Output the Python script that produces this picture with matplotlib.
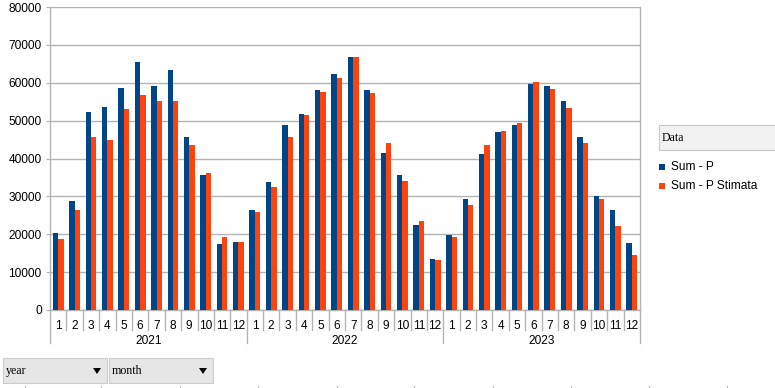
import numpy as np
import matplotlib
matplotlib.use('Agg')
import matplotlib.pyplot as plt
import matplotlib.patches as patches
from matplotlib.lines import Line2D

years = ['2021', '2022', '2023']
months = [str(m) for m in range(1, 13)]

sum_p = [20350, 28700, 52400, 53700, 58600, 65500, 59100, 63300, 45600, 35600, 17500, 18000,
         26300, 33900, 48800, 51800, 58100, 62200, 66900, 58200, 41400, 35600, 22500, 13500,
         19800, 29400, 41300, 47000, 48800, 59800, 59200, 55200, 45700, 30000, 26500, 17800]
sum_p_stimata = [18800, 26500, 45800, 45000, 53100, 56700, 55300, 55200, 43500, 36200, 19200, 18000,
                 25800, 32400, 45800, 51400, 57500, 61300, 66700, 57200, 44000, 34000, 23400, 13100,
                 19200, 27700, 43600, 47200, 49400, 60300, 58300, 53400, 44000, 29200, 22200, 14500]

blue = '#004586'
orange = '#ff420e'
grid_col = '#b3b3b3'

plt.rcParams['font.family'] = ['Liberation Sans', 'DejaVu Sans']
fig = plt.figure(figsize=(7.75, 3.88), dpi=100)
W, H = 775.0, 388.0
ax = fig.add_axes([50 / W, 1 - 310 / H, 590 / W, 303 / H])

x = np.arange(len(sum_p))
w = 0.33
ax.bar(x - w / 2, sum_p, w, color=blue, label='Sum - P', zorder=3)
ax.bar(x + w / 2, sum_p_stimata, w, color=orange, label='Sum - P Stimata', zorder=3)

ax.set_xlim(-0.5, len(sum_p) - 0.5)
ax.set_ylim(0, 80000)
ax.set_yticks(np.arange(0, 80001, 10000))
ax.grid(axis='y', color=grid_col, linewidth=1, zorder=0)
for s in ['top', 'bottom']:
    ax.spines[s].set_visible(False)
for s in ['left', 'right']:
    ax.spines[s].set_color(grid_col)
    ax.spines[s].set_linewidth(1)
ax.tick_params(axis='y', length=3, color=grid_col, labelsize=8.6, pad=3)
ax.set_xticks([])

# category axis: month labels, separators, year labels
trans = ax.get_xaxis_transform()
px = 1.0 / 303
for i in range(len(sum_p)):
    ax.text(i, -16 * px, months[i % 12], transform=trans, ha='center', va='center', fontsize=8.6)
for i in range(len(sum_p) + 1):
    depth = 33 if i % 12 == 0 else 20
    ax.add_line(Line2D([i - 0.5, i - 0.5], [0, -depth * px], transform=trans,
                       color=grid_col, linewidth=1, clip_on=False))
for k, yr in enumerate(years):
    ax.text(k * 12 + 5.5, -31 * px, yr, transform=trans, ha='center', va='center', fontsize=8.6)
ax.add_line(Line2D([-0.5, len(sum_p) - 0.5], [0, 0], transform=trans,
                   color=grid_col, linewidth=1, clip_on=False))

# legend with "Data" field
fig.patches.append(patches.Rectangle((659 / W, 1 - 150 / H), 120 / W, 25 / H, transform=fig.transFigure,
                                     facecolor='#f2f2f2', edgecolor='#c8c8c8', linewidth=0.8))
fig.text(662 / W, 1 - 138 / H, 'Data', fontsize=8.6, family='Liberation Serif', va='center')
for yy, col, lab in [(167, blue, 'Sum - P'), (186, orange, 'Sum - P Stimata')]:
    fig.patches.append(patches.Rectangle((659 / W, 1 - (yy + 3) / H), 6 / W, 6 / H,
                                         transform=fig.transFigure, facecolor=col, edgecolor='none'))
    fig.text(671 / W, 1 - yy / H, lab, fontsize=8.6, va='center')

# field buttons
for x0, x1, lab in [(3, 107, 'year'), (109, 213, 'month')]:
    fig.patches.append(patches.Rectangle((x0 / W, 1 - 383 / H), (x1 - x0) / W, 25 / H,
                                         transform=fig.transFigure, facecolor='#e6e6e6',
                                         edgecolor='#cccccc', linewidth=0.8))
    fig.text((x0 + 3) / W, 1 - 371 / H, lab, fontsize=8.6, family='Liberation Serif', va='center')
    tx = x1 - 10
    fig.patches.append(patches.Polygon([((tx - 4) / W, 1 - 368 / H), ((tx + 4) / W, 1 - 368 / H),
                                        (tx / W, 1 - 374 / H)], closed=True,
                                       transform=fig.transFigure, facecolor='black', edgecolor='none'))

for tx in [25, 101, 180, 258, 337, 414, 493, 571, 649, 727]:
    fig.lines.append(Line2D([tx / W, tx / W], [0, 2 / H], transform=fig.transFigure,
                            color='#bbbbbb', linewidth=0.8))

fig.savefig('out.png', dpi=100)
